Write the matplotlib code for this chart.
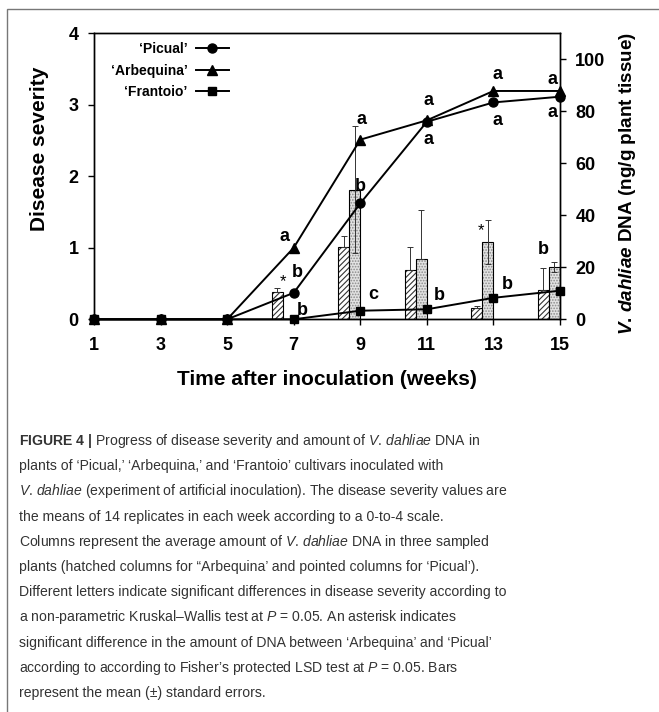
import numpy as np
import matplotlib
matplotlib.use("Agg")
import matplotlib.pyplot as plt
from matplotlib import font_manager
from matplotlib.patches import Rectangle

# disease severity (0-4 scale)
weeks = [1, 3, 5, 7, 9, 11, 13, 15]
picual = [0, 0, 0, 0.37, 1.62, 2.76, 3.03, 3.11]
arbequina = [0, 0, 0, 1.00, 2.51, 2.78, 3.19, 3.19]
frantoio = [0, 0, 0, 0, 0.12, 0.14, 0.30, 0.40]

# significance letters per point
picual_letters = ["", "", "", "b", "b", "a", "a", "a"]
arbequina_letters = ["", "", "", "a", "a", "a", "a", "a"]
frantoio_letters = ["", "", "", "b", "c", "b", "b", "b"]

# V. dahliae DNA (ng/g plant tissue)
dna_weeks = [7, 9, 11, 13, 15]
dna_arbequina = [10.6, 27.6, 18.9, 4.2, 11.2]
dna_arbequina_err = [1.3, 4.3, 8.9, 0.9, 8.6]
dna_picual = [0, 49.8, 23.0, 29.7, 20.2]
dna_picual_err_up = [0, 24.4, 18.9, 8.6, 1.9]
dna_picual_err_low = [0, 24.4, 0, 8.6, 1.9]

VD = "$\\mathit{V}$. $\\mathit{dahliae}$"
PP = "$\\mathit{P}$"
caption = [
    "$\\mathbf{FIGURE\\ 4\\ |}$ Progress of disease severity and amount of " + VD + " DNA in",
    "plants of \u2018Picual,\u2019 \u2018Arbequina,\u2019 and \u2018Frantoio\u2019 cultivars inoculated with",
    VD + " (experiment of artificial inoculation). The disease severity values are",
    "the means of 14 replicates in each week according to a 0-to-4 scale.",
    "Columns represent the average amount of " + VD + " DNA in three sampled",
    "plants (hatched columns for \u201cArbequina\u2019 and pointed columns for \u2018Picual\u2019).",
    "Different letters indicate significant differences in disease severity according to",
    "a non-parametric Kruskal\u2013Wallis test at " + PP + " = 0.05. An asterisk indicates",
    "significant difference in the amount of DNA between \u2018Arbequina\u2019 and \u2018Picual\u2019",
    "according to according to Fisher\u2019s protected LSD test at " + PP + " = 0.05. Bars",
    "represent the mean (\u00b1) standard errors.",
]


def has_font(name):
    try:
        font_manager.findfont(name, fallback_to_default=False)
        return True
    except ValueError:
        return False


cap_font = "Liberation Sans Narrow" if has_font("Liberation Sans Narrow") else "Liberation Sans"
cap_size = 12.4 if cap_font == "Liberation Sans Narrow" else 10.1

plt.rcParams["font.family"] = ["Liberation Sans", "DejaVu Sans"]
plt.rcParams["mathtext.fontset"] = "custom"
plt.rcParams["mathtext.rm"] = cap_font
plt.rcParams["mathtext.it"] = cap_font + ":italic"
plt.rcParams["mathtext.bf"] = cap_font + ":bold"
plt.rcParams["mathtext.bfit"] = "Liberation Sans:italic:bold"
plt.rcParams["hatch.linewidth"] = 0.8

fig = plt.figure(figsize=(6.59, 7.12), dpi=100)
ax = fig.add_axes([94 / 659, 1 - 319.3 / 712, 466 / 659, 286.3 / 712])
ax2 = ax.twinx()
ax.set_zorder(ax2.get_zorder() + 1)
ax.patch.set_visible(False)

# DNA columns on the right axis
w = 1 / 3
xa = np.array(dna_weeks) - 0.5
xp = np.array(dna_weeks) - 1 / 6
ax2.bar(xa, dna_arbequina, width=w, color="white", edgecolor="#333333",
        hatch="//////", linewidth=0)
ax2.bar(xa, dna_arbequina, width=w, fill=False, edgecolor="black", linewidth=0.8)
ax2.errorbar(xa, dna_arbequina, yerr=[np.zeros(5), dna_arbequina_err], fmt="none",
             ecolor="#333333", elinewidth=0.7, capsize=2.2, capthick=0.7)
ax2.bar(xp, dna_picual, width=w, color="#e2e2e2", edgecolor="#8a8a8a",
        hatch="......", linewidth=0)
ax2.bar(xp, dna_picual, width=w, fill=False, edgecolor="black", linewidth=0.8)
ax2.errorbar(xp, dna_picual, yerr=[dna_picual_err_low, dna_picual_err_up], fmt="none",
             ecolor="#333333", elinewidth=0.7, capsize=2.2, capthick=0.7)

# severity lines on the left axis
ax.plot(weeks, picual, color="black", lw=1.4, marker="o", ms=6.5, clip_on=False, label="\u2018Picual\u2019")
ax.plot(weeks, arbequina, color="black", lw=1.4, marker="^", ms=7, clip_on=False, label="\u2018Arbequina\u2019")
ax.plot(weeks, frantoio, color="black", lw=1.4, marker="s", ms=6, clip_on=False, label="\u2018Frantoio\u2019")

# letter offsets in pixels (dx, dy) per point from week 7 onwards
off_arb = [(-9, 11), (1, 20), (2, 20), (4, 16), (-8, 11)]
off_pic = [(4, 20), (0, 17), (2, -18), (4, -18), (-8, -16)]
off_fra = [(9, 9), (13, 16), (12, 14), (14, 13), (-17, 41)]
for vals, labs, offs in [(arbequina, arbequina_letters, off_arb),
                         (picual, picual_letters, off_pic),
                         (frantoio, frantoio_letters, off_fra)]:
    for i in range(3, len(weeks)):
        dx, dy = offs[i - 3]
        ax.annotate(labs[i], (weeks[i], vals[i]), xytext=(dx * 0.72, dy * 0.72),
                    textcoords="offset points", ha="center", va="center",
                    fontsize=13, fontweight="bold", annotation_clip=False)

# asterisks for significant DNA differences
ax2.annotate("*", (xa[0], dna_arbequina[0] + dna_arbequina_err[0]), xytext=(4, 5),
             textcoords="offset points", ha="center", va="center", fontsize=12)
ax2.annotate("*", (xp[3], dna_picual[3] + dna_picual_err_up[3]), xytext=(-5, -8),
             textcoords="offset points", ha="center", va="center", fontsize=12)

ax.set_xlim(1, 15)
ax.set_ylim(0, 4)
ax2.set_ylim(0, 110)
ax.set_xticks(range(1, 16, 2))
ax.set_yticks(range(0, 5))
ax2.set_yticks(range(0, 101, 20))
for a in (ax, ax2):
    a.tick_params(direction="out", length=4, width=1, labelsize=13, pad=7)
    for s in a.spines.values():
        s.set_linewidth(1)
    for t in a.get_xticklabels() + a.get_yticklabels():
        t.set_fontweight("bold")
ax.tick_params(axis="x", pad=9)

ax.set_xlabel("Time after inoculation (weeks)", fontsize=15, fontweight="bold", va="center")
ax.xaxis.set_label_coords(0.5, -0.212)
ax.set_ylabel("Disease severity", fontsize=15, fontweight="bold", va="center")
ax.yaxis.set_label_coords(-0.118, 0.595)
ax2.set_ylabel("$\\mathbfit{V}$. $\\mathbfit{dahliae}$ DNA (ng/g plant tissue)", fontsize=13.6,
               fontweight="bold", va="center")
ax2.yaxis.set_label_coords(1.144, 0.476)

leg = ax.legend(loc="upper left", bbox_to_anchor=(0.009, 1.012), frameon=False,
                markerfirst=False, handlelength=2.4, handletextpad=0.6,
                labelspacing=0.55, prop={"weight": "bold", "size": 10})

# caption
for i, line in enumerate(caption):
    fig.text(19 / 659, 1 - (445 + i * 25.2) / 712, line, fontsize=cap_size,
             family=cap_font, color="#333333", ha="left", va="baseline")

# frame of the figure panel
fig.add_artist(Rectangle((7 / 659, -0.1), 1.2, 1.1 - 8.5 / 712, transform=fig.transFigure,
                         fill=False, edgecolor="#777777", linewidth=1))

fig.savefig("out.png", dpi=100)
